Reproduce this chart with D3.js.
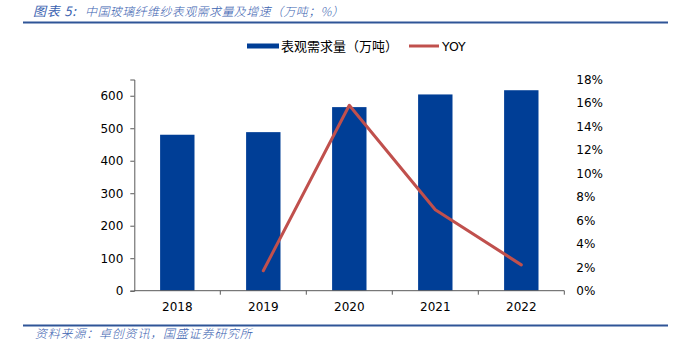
<!DOCTYPE html>
<html>
<head>
<meta charset="utf-8">
<script src="https://cdn.jsdelivr.net/npm/d3@7"></script>
<style>
  body { margin: 0; background: #fff; }
  svg { display: block; }
</style>
</head>
<body>
<svg id="chart" width="686" height="355"></svg>
<script>
const categories = ["2018", "2019", "2020", "2021", "2022"];
const demand = [480, 488, 565, 604, 617];          // 表观需求量（万吨）
const yoy = [null, 0.017, 0.158, 0.069, 0.022];    // YOY
const leftTicks = [0, 100, 200, 300, 400, 500, 600];
const rightTicks = [0, 0.02, 0.04, 0.06, 0.08, 0.10, 0.12, 0.14, 0.16, 0.18];
const titleLabel = "图表 5:";
const titleText = "中国玻璃纤维纱表观需求量及增速（万吨；%）";
const sourceText = "资料来源：卓创资讯，国盛证券研究所";
const legendBar = "表观需求量（万吨）";
const legendLine = "YOY";

const svg = d3.select("#chart");
const font = "'DejaVu Sans', Verdana, sans-serif";
const cjk = "'Noto Sans CJK SC', sans-serif";
const barColor = "#003E96";
const lineColor = "#C0504D";
const axisColor = "#595959";
const noteColor = "#3A62B0";

// title and rules
svg.append("text").attr("x", 33).attr("y", 16)
  .attr("font-family", cjk).attr("font-size", 13).attr("font-style", "italic")
  .attr("font-weight", 400).attr("letter-spacing", 0.8)
  .attr("fill", noteColor).text(titleLabel);
svg.append("text").attr("x", 85).attr("y", 16)
  .attr("font-family", cjk).attr("font-size", 12).attr("font-style", "italic")
  .attr("font-weight", 300).attr("letter-spacing", 0.4)
  .attr("fill", noteColor).text(titleText);
svg.append("line").attr("x1", 23).attr("x2", 668).attr("y1", 22.5).attr("y2", 22.5)
  .attr("stroke", "#2F5597").attr("stroke-width", 2);
svg.append("line").attr("x1", 23).attr("x2", 668).attr("y1", 325.5).attr("y2", 325.5)
  .attr("stroke", "#2F5597").attr("stroke-width", 2);
svg.append("text").attr("x", 35).attr("y", 338)
  .attr("font-family", cjk).attr("font-size", 12).attr("font-style", "italic")
  .attr("font-weight", 300).attr("letter-spacing", 0.8)
  .attr("fill", noteColor).text(sourceText);

// scales
const xb = d3.scaleBand().domain(categories).range([134.3, 564.3]);
const yL = d3.scaleLinear().domain([0, 650]).range([290.7, 79.5]);
const yR = d3.scaleLinear().domain([0, 0.18]).range([290.7, 79.5]);

// bars
svg.append("g").selectAll("rect").data(categories).join("rect")
  .attr("x", (d) => xb(d) + xb.bandwidth() / 2 - 17.2)
  .attr("width", 34.4)
  .attr("y", (d, i) => yL(demand[i]))
  .attr("height", (d, i) => yL(0) - yL(demand[i]))
  .attr("fill", barColor);

// line
const pts = categories.map((c, i) => ({ c, v: yoy[i] })).filter(p => p.v !== null);
svg.append("path").datum(pts)
  .attr("d", d3.line().x(p => xb(p.c) + xb.bandwidth() / 2).y(p => yR(p.v)))
  .attr("fill", "none").attr("stroke", lineColor).attr("stroke-width", 3)
  .attr("stroke-linejoin", "round").attr("stroke-linecap", "round");

// left axis
const gL = svg.append("g").attr("transform", "translate(134.3,0)")
  .call(d3.axisLeft(yL).tickValues(leftTicks).tickSize(4).tickPadding(7).tickFormat(d3.format("d")));
gL.select(".domain").attr("stroke", axisColor);
gL.selectAll(".tick line").attr("stroke", axisColor);
gL.selectAll("text").attr("font-family", font).attr("font-size", 12).attr("fill", "#000");

// right axis (labels only)
const gR = svg.append("g").attr("transform", "translate(564.3,0)")
  .call(d3.axisRight(yR).tickValues(rightTicks).tickSize(0).tickPadding(12).tickFormat(d3.format(".0%")));
gR.select(".domain").remove();
gR.selectAll("text").attr("font-family", font).attr("font-size", 12).attr("fill", "#000");

// bottom axis
const gB = svg.append("g").attr("transform", "translate(0,290.7)")
  .call(d3.axisBottom(xb).tickSize(0).tickPadding(12));
gB.select(".domain").attr("stroke", axisColor).attr("d", "M134.3,0H564.3");
gB.selectAll("text").attr("font-family", font).attr("font-size", 12).attr("fill", "#000");
const bounds = categories.map(c => xb(c)).concat([xb.range()[1]]).slice(1);
gB.selectAll(".sep").data(bounds).join("line").attr("class", "sep")
  .attr("x1", d => d).attr("x2", d => d).attr("y1", 0).attr("y2", 4)
  .attr("stroke", axisColor);

// legend
const lg = svg.append("g");
lg.append("rect").attr("x", 247).attr("y", 43.5).attr("width", 32).attr("height", 5).attr("fill", barColor);
lg.append("text").attr("x", 281).attr("y", 51).attr("font-family", cjk).attr("font-size", 13)
  .attr("fill", "#000").text(legendBar);
lg.append("line").attr("x1", 409).attr("x2", 439).attr("y1", 46).attr("y2", 46)
  .attr("stroke", lineColor).attr("stroke-width", 3);
lg.append("text").attr("x", 442).attr("y", 51).attr("font-family", font).attr("font-size", 12.5)
  .attr("fill", "#000").text(legendLine);
</script>
</body>
</html>
